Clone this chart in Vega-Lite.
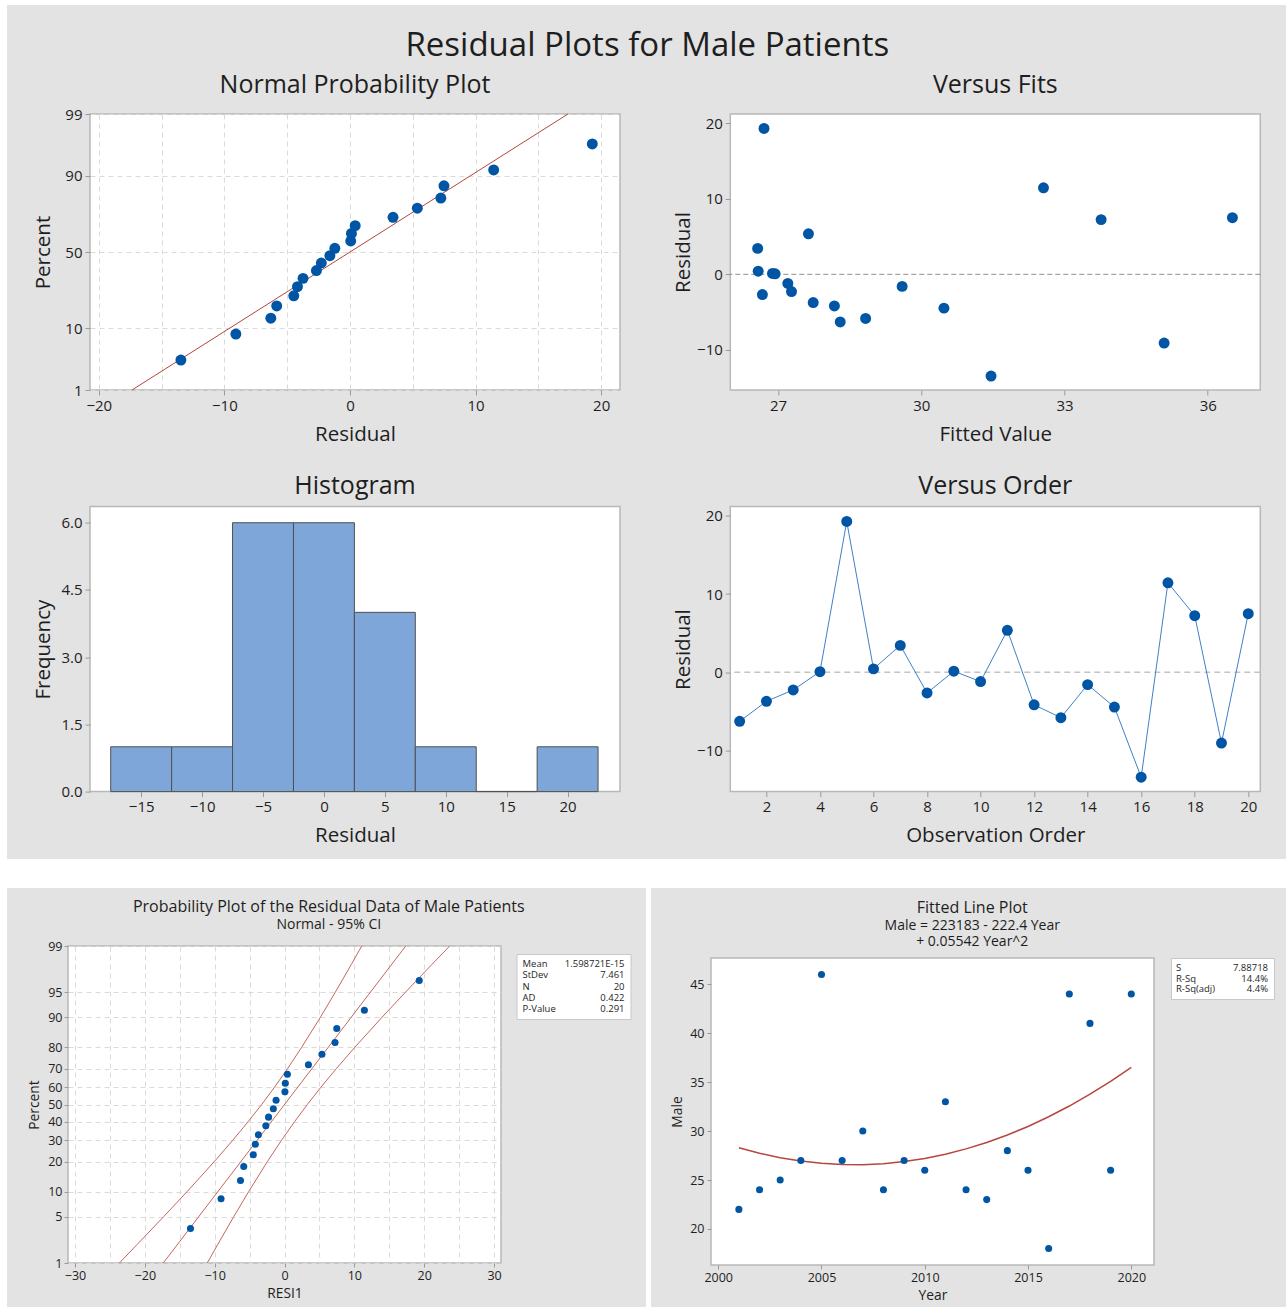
{
  "$schema": "https://vega.github.io/schema/vega-lite/v6.json",
  "background": "#e3e3e3",
  "padding": 0,
  "config": {
    "font": "Open Sans",
    "view": {"fill": "#ffffff", "stroke": "#b8b8b8", "strokeWidth": 1.5},
    "concat": {"spacing": 0},
    "axis": {"domain": false, "grid": false, "tickColor": "#9a9a9a", "tickWidth": 1, "labelColor": "#1e1e1e", "titleColor": "#1e1e1e", "titleFontWeight": "normal", "labelFlush": false, "labelOverlap": false, "labelFont": "Open Sans", "titleFont": "Open Sans", "gridColor": "#dadada", "gridDash": [5, 4], "gridWidth": 1},
    "axisX": {"tickSize": 5, "labelPadding": 3, "labelFontSize": 15, "titleFontSize": 20.5, "titlePadding": 11.1, "minExtent": 23, "maxExtent": 23},
    "axisY": {"tickSize": 5, "labelPadding": 3, "labelFontSize": 15, "titleFontSize": 20.5, "titlePadding": 6.4, "minExtent": 30, "maxExtent": 30},
    "title": {"color": "#1e1e1e", "subtitleColor": "#1e1e1e", "fontWeight": "normal", "font": "Open Sans", "subtitleFont": "Open Sans", "anchor": "middle"}
  },
  "datasets": {
    "obs": [
      {"order": 1, "year": 2001, "male": 22, "fit": 28.302, "resid": -6.302, "pct": 13.24, "nscore": -1.1154},
      {"order": 2, "year": 2002, "male": 24, "fit": 27.736, "resid": -3.736, "pct": 32.84, "nscore": -0.4443},
      {"order": 3, "year": 2003, "male": 25, "fit": 27.282, "resid": -2.282, "pct": 42.65, "nscore": -0.1854},
      {"order": 4, "year": 2004, "male": 27, "fit": 26.939, "resid": 0.061, "pct": 57.35, "nscore": 0.1854},
      {"order": 5, "year": 2005, "male": 46, "fit": 26.706, "resid": 19.294, "pct": 96.57, "nscore": 1.8209},
      {"order": 6, "year": 2006, "male": 27, "fit": 26.584, "resid": 0.416, "pct": 67.16, "nscore": 0.4443},
      {"order": 7, "year": 2007, "male": 30, "fit": 26.573, "resid": 3.427, "pct": 72.06, "nscore": 0.5846},
      {"order": 8, "year": 2008, "male": 24, "fit": 26.672, "resid": -2.672, "pct": 37.75, "nscore": -0.3122},
      {"order": 9, "year": 2009, "male": 27, "fit": 26.884, "resid": 0.116, "pct": 62.25, "nscore": 0.3122},
      {"order": 10, "year": 2010, "male": 26, "fit": 27.205, "resid": -1.205, "pct": 52.45, "nscore": 0.0615},
      {"order": 11, "year": 2011, "male": 33, "fit": 27.637, "resid": 5.363, "pct": 76.96, "nscore": 0.7376},
      {"order": 12, "year": 2012, "male": 24, "fit": 28.18, "resid": -4.18, "pct": 27.94, "nscore": -0.5846},
      {"order": 13, "year": 2013, "male": 23, "fit": 28.834, "resid": -5.834, "pct": 18.14, "nscore": -0.9101},
      {"order": 14, "year": 2014, "male": 28, "fit": 29.599, "resid": -1.599, "pct": 47.55, "nscore": -0.0615},
      {"order": 15, "year": 2015, "male": 26, "fit": 30.474, "resid": -4.474, "pct": 23.04, "nscore": -0.7376},
      {"order": 16, "year": 2016, "male": 18, "fit": 31.461, "resid": -13.461, "pct": 3.43, "nscore": -1.8209},
      {"order": 17, "year": 2017, "male": 44, "fit": 32.559, "resid": 11.441, "pct": 91.67, "nscore": 1.383},
      {"order": 18, "year": 2018, "male": 41, "fit": 33.766, "resid": 7.234, "pct": 81.86, "nscore": 0.9101},
      {"order": 19, "year": 2019, "male": 26, "fit": 35.086, "resid": -9.086, "pct": 8.33, "nscore": -1.383},
      {"order": 20, "year": 2020, "male": 44, "fit": 36.516, "resid": 7.484, "pct": 86.76, "nscore": 1.1154}
    ],
    "npfit": [
      {"resid": -17.357, "nscore": -2.3263},
      {"resid": 17.357, "nscore": 2.3263}
    ],
    "ci": [
      {"curve": "fit", "resid": -17.357, "nscore": -2.3263},
      {"curve": "fit", "resid": 17.357, "nscore": 2.3263},
      {"curve": "lower", "resid": -23.652, "nscore": -2.3263},
      {"curve": "lower", "resid": -21.089, "nscore": -2.0537},
      {"curve": "lower", "resid": -17.289, "nscore": -1.6449},
      {"curve": "lower", "resid": -13.975, "nscore": -1.2816},
      {"curve": "lower", "resid": -10.084, "nscore": -0.8416},
      {"curve": "lower", "resid": -7.401, "nscore": -0.5244},
      {"curve": "lower", "resid": -5.212, "nscore": -0.2533},
      {"curve": "lower", "resid": -3.27, "nscore": 0},
      {"curve": "lower", "resid": -1.432, "nscore": 0.2533},
      {"curve": "lower", "resid": 0.425, "nscore": 0.5244},
      {"curve": "lower", "resid": 2.474, "nscore": 0.8416},
      {"curve": "lower", "resid": 5.149, "nscore": 1.2816},
      {"curve": "lower", "resid": 7.257, "nscore": 1.6449},
      {"curve": "lower", "resid": 9.557, "nscore": 2.0537},
      {"curve": "lower", "resid": 11.062, "nscore": 2.3263},
      {"curve": "upper", "resid": -11.062, "nscore": -2.3263},
      {"curve": "upper", "resid": -9.557, "nscore": -2.0537},
      {"curve": "upper", "resid": -7.257, "nscore": -1.6449},
      {"curve": "upper", "resid": -5.149, "nscore": -1.2816},
      {"curve": "upper", "resid": -2.474, "nscore": -0.8416},
      {"curve": "upper", "resid": -0.425, "nscore": -0.5244},
      {"curve": "upper", "resid": 1.432, "nscore": -0.2533},
      {"curve": "upper", "resid": 3.27, "nscore": 0},
      {"curve": "upper", "resid": 5.212, "nscore": 0.2533},
      {"curve": "upper", "resid": 7.401, "nscore": 0.5244},
      {"curve": "upper", "resid": 10.084, "nscore": 0.8416},
      {"curve": "upper", "resid": 13.975, "nscore": 1.2816},
      {"curve": "upper", "resid": 17.289, "nscore": 1.6449},
      {"curve": "upper", "resid": 21.089, "nscore": 2.0537},
      {"curve": "upper", "resid": 23.652, "nscore": 2.3263}
    ],
    "hist": [
      {"lo": -17.5, "hi": -12.5, "n": 1},
      {"lo": -12.5, "hi": -7.5, "n": 1},
      {"lo": -7.5, "hi": -2.5, "n": 6},
      {"lo": -2.5, "hi": 2.5, "n": 6},
      {"lo": 2.5, "hi": 7.5, "n": 4},
      {"lo": 7.5, "hi": 12.5, "n": 1},
      {"lo": 12.5, "hi": 17.5, "n": 0},
      {"lo": 17.5, "hi": 22.5, "n": 1}
    ]
  },
  "spacing": 0,
  "hconcat": [
    {"width": 7, "height": 1307, "view": {"fill": "#ffffff", "stroke": null}, "data": {"values": []}, "mark": "rect", "encoding": {}},
    {
      "spacing": 0,
      "vconcat": [
        {"width": 1279, "height": 5, "view": {"fill": "#ffffff", "stroke": null}, "data": {"values": []}, "mark": "rect", "encoding": {}},
        {"width": 1, "height": 24.7, "view": {"fill": null, "stroke": null}, "data": {"values": []}, "mark": "rect", "encoding": {}},
        {
          "spacing": 0,
          "hconcat": [
            {"width": 24.1, "height": 1, "view": {"fill": null, "stroke": null}, "data": {"values": []}, "mark": "rect", "encoding": {}},
            {
              "title": {"text": "Residual Plots for Male Patients", "fontSize": 33, "offset": 8.5},
              "spacing": 26.6,
              "vconcat": [
                {
                  "spacing": 51.3,
                  "hconcat": [
                    {
                      "width": 530, "height": 276,
                      "title": {"text": "Normal Probability Plot", "fontSize": 25, "offset": 8.8, "frame": "group"},
                      "encoding": {
                        "x": {"field": "resid", "type": "quantitative", "title": "Residual",
                          "scale": {"domain": [-20.7, 21.5], "nice": false, "zero": false},
                          "axis": {"values": [-20, -15, -10, -5, 0, 5, 10, 15, 20], "grid": true,
                            "labelExpr": "datum.value % 10 === 0 ? datum.label : ''",
                            "tickOpacity": {"condition": {"test": "datum.value % 10 === 0", "value": 1}, "value": 0}}},
                        "y": {"field": "nscore", "type": "quantitative", "title": "Percent",
                          "scale": {"domain": [-2.3263, 2.3263], "nice": false, "zero": false},
                          "axis": {"values": [-2.3263, -1.2816, 0, 1.2816, 2.3263], "grid": true,
                            "labelExpr": "datum.value < -2 ? '1' : datum.value < -1 ? '10' : datum.value < 1 ? '50' : datum.value < 2 ? '90' : '99'"}}
                      },
                      "layer": [
                        {"data": {"name": "npfit"}, "mark": {"type": "line", "color": "#b5443c", "strokeWidth": 1}, "encoding": {}},
                        {"data": {"name": "obs"}, "mark": {"type": "circle", "size": 120, "color": "#0055a5", "opacity": 1}}
                      ]
                    },
                    {
                      "width": 530, "height": 276,
                      "title": {"text": "Versus Fits", "fontSize": 25, "offset": 16.3, "frame": "group"},
                      "layer": [
                        {"data": {"values": [{"resid": 0}]}, "mark": {"type": "rule", "color": "#8c8c8c", "strokeDash": [5, 3], "strokeWidth": 1},
                          "encoding": {"y": {"field": "resid", "type": "quantitative", "title": "Residual"}}},
                        {"data": {"name": "obs"}, "mark": {"type": "circle", "size": 120, "color": "#0055a5", "opacity": 1},
                          "encoding": {
                            "x": {"field": "fit", "type": "quantitative", "title": "Fitted Value",
                              "scale": {"domain": [26.0, 37.1], "nice": false, "zero": false},
                              "axis": {"values": [27, 30, 33, 36]}},
                            "y": {"field": "resid", "type": "quantitative", "title": "Residual",
                              "scale": {"domain": [-15.3, 21.2], "nice": false, "zero": false},
                              "axis": {"values": [-10, 0, 10, 20]}}
                          }}
                      ]
                    }
                  ]
                },
                {
                  "spacing": 51.3,
                  "hconcat": [
                    {
                      "width": 530, "height": 285,
                      "title": {"text": "Histogram", "fontSize": 25, "offset": 7.3, "frame": "group"},
                      "data": {"name": "hist"},
                      "mark": {"type": "rect", "fill": "#7ea6d9", "stroke": "#505050", "strokeWidth": 1, "fillOpacity": 1},
                      "encoding": {
                        "x": {"field": "lo", "type": "quantitative", "title": "Residual",
                          "scale": {"domain": [-19.2, 24.3], "nice": false, "zero": false},
                          "axis": {"values": [-15, -10, -5, 0, 5, 10, 15, 20]}},
                        "x2": {"field": "hi"},
                        "y": {"field": "n", "type": "quantitative", "title": "Frequency",
                          "scale": {"domain": [0, 6.36], "nice": false},
                          "axis": {"values": [0, 1.5, 3, 4.5, 6], "format": ".1f"}},
                        "y2": {"datum": 0}
                      }
                    },
                    {
                      "width": 530, "height": 285,
                      "title": {"text": "Versus Order", "fontSize": 25, "offset": 7.3, "frame": "group"},
                      "layer": [
                        {"data": {"values": [{"resid": 0}]}, "mark": {"type": "rule", "color": "#c4c4c4", "strokeDash": [6, 4], "strokeWidth": 1.5},
                          "encoding": {"y": {"field": "resid", "type": "quantitative", "title": "Residual"}}},
                        {"data": {"name": "obs"}, "mark": {"type": "line", "color": "#3f80c6", "strokeWidth": 1},
                          "encoding": {
                            "x": {"field": "order", "type": "quantitative", "title": "Observation Order",
                              "scale": {"domain": [0.65, 20.45], "nice": false, "zero": false},
                              "axis": {"values": [2, 4, 6, 8, 10, 12, 14, 16, 18, 20]}},
                            "y": {"field": "resid", "type": "quantitative", "title": "Residual",
                              "scale": {"domain": [-15.3, 21.2], "nice": false, "zero": false},
                              "axis": {"values": [-10, 0, 10, 20]}}
                          }},
                        {"data": {"name": "obs"}, "mark": {"type": "circle", "size": 120, "color": "#0055a5", "opacity": 1},
                          "encoding": {
                            "x": {"field": "order", "type": "quantitative", "title": "Observation Order"},
                            "y": {"field": "resid", "type": "quantitative", "title": "Residual"}
                          }}
                      ]
                    }
                  ]
                }
              ]
            }
          ]
        },
        {"width": 1, "height": 11.4, "view": {"fill": null, "stroke": null}, "data": {"values": []}, "mark": "rect", "encoding": {}},
        {"width": 1279, "height": 29, "view": {"fill": "#ffffff", "stroke": null}, "data": {"values": []}, "mark": "rect", "encoding": {}},
        {
          "spacing": 0,
          "hconcat": [
            {"width": 18.5, "height": 1, "view": {"fill": null, "stroke": null}, "data": {"values": []}, "mark": "rect", "encoding": {}},
            {
              "spacing": 0,
              "vconcat": [
                {"width": 1, "height": 10.9, "view": {"fill": null, "stroke": null}, "data": {"values": []}, "mark": "rect", "encoding": {}},
                {
                  "title": {"text": "Probability Plot of the Residual Data of Male Patients", "subtitle": "Normal - 95% CI", "fontSize": 16, "subtitleFontSize": 14, "subtitlePadding": 3, "offset": 7},
                  "spacing": 13.5,
                  "hconcat": [
                    {
                      "width": 433, "height": 317,
                      "encoding": {
                        "x": {"field": "resid", "type": "quantitative", "title": "RESI1",
                          "scale": {"domain": [-31, 31], "nice": false, "zero": false},
                          "axis": {"values": [-30, -25, -20, -15, -10, -5, 0, 5, 10, 15, 20, 25, 30], "grid": true,
                            "labelExpr": "datum.value % 10 === 0 ? datum.label : ''",
                            "tickOpacity": {"condition": {"test": "datum.value % 10 === 0", "value": 1}, "value": 0},
                            "tickSize": 4, "labelPadding": 2, "labelFontSize": 12.5, "titleFontSize": 13.8, "titlePadding": 4.5, "minExtent": 18.5, "maxExtent": 18.5}},
                        "y": {"field": "nscore", "type": "quantitative", "title": "Percent",
                          "scale": {"domain": [-2.3263, 2.3263], "nice": false, "zero": false},
                          "axis": {"values": [-2.3263, -1.6449, -1.2816, -0.8416, -0.5244, -0.2533, 0, 0.2533, 0.5244, 0.8416, 1.2816, 1.6449, 2.3263], "grid": true,
                            "labelExpr": "datum.value < -2 ? '1' : datum.value < -1.5 ? '5' : datum.value < -1.1 ? '10' : datum.value < -0.7 ? '20' : datum.value < -0.4 ? '30' : datum.value < -0.1 ? '40' : datum.value < 0.1 ? '50' : datum.value < 0.4 ? '60' : datum.value < 0.7 ? '70' : datum.value < 1.1 ? '80' : datum.value < 1.5 ? '90' : datum.value < 2 ? '95' : '99'",
                            "tickSize": 4, "labelPadding": 2, "labelFontSize": 12.5, "titleFontSize": 13.8, "titlePadding": 6.7, "minExtent": 20, "maxExtent": 20}}
                      },
                      "layer": [
                        {"data": {"name": "ci"}, "mark": {"type": "line", "color": "#c4675f", "strokeWidth": 1},
                          "encoding": {"detail": {"field": "curve"}, "order": {"field": "nscore", "type": "quantitative"}}},
                        {"data": {"name": "obs"}, "mark": {"type": "circle", "size": 50, "color": "#0055a5", "opacity": 1}}
                      ]
                    },
                    {
                      "spacing": 0,
                      "vconcat": [
                        {"width": 1, "height": 6.25, "view": {"fill": null, "stroke": null}, "data": {"values": []}, "mark": "rect", "encoding": {}},
                        {
                          "width": 114, "height": 65,
                          "view": {"fill": "#ffffff", "stroke": "#c8c8c8", "strokeWidth": 1},
                          "data": {"values": [
                            {"k": "Mean", "v": "1.598721E-15"},
                            {"k": "StDev", "v": "7.461"},
                            {"k": "N", "v": "20"},
                            {"k": "AD", "v": "0.422"},
                            {"k": "P-Value", "v": "0.291"}
                          ]},
                          "encoding": {
                            "y": {"field": "k", "type": "ordinal", "sort": ["Mean", "StDev", "N", "AD", "P-Value"], "scale": {"padding": 0.89}, "axis": null}
                          },
                          "layer": [
                            {"mark": {"type": "text", "align": "left", "baseline": "middle", "fontSize": 9.5, "dx": 6, "color": "#1e1e1e"},
                              "encoding": {"x": {"datum": 0, "type": "quantitative", "scale": {"domain": [0, 1]}, "axis": null}, "text": {"field": "k"}}},
                            {"mark": {"type": "text", "align": "right", "baseline": "middle", "fontSize": 9.5, "dx": -6, "color": "#1e1e1e"},
                              "encoding": {"x": {"datum": 1, "type": "quantitative"}, "text": {"field": "v"}}}
                          ]
                        }
                      ]
                    }
                  ]
                }
              ]
            },
            {"width": 14.3, "height": 1, "view": {"fill": null, "stroke": null}, "data": {"values": []}, "mark": "rect", "encoding": {}},
            {"width": 5, "height": 419, "view": {"fill": "#ffffff", "stroke": null}, "data": {"values": []}, "mark": "rect", "encoding": {}},
            {"width": 19, "height": 1, "view": {"fill": null, "stroke": null}, "data": {"values": []}, "mark": "rect", "encoding": {}},
            {
              "spacing": 0,
              "vconcat": [
                {"width": 1, "height": 10.9, "view": {"fill": null, "stroke": null}, "data": {"values": []}, "mark": "rect", "encoding": {}},
                {
                  "title": {"text": "Fitted Line Plot", "subtitle": ["Male = 223183 - 222.4 Year", "+ 0.05542 Year^2"], "fontSize": 16, "subtitleFontSize": 14, "subtitleLineHeight": 16.5, "subtitlePadding": 3, "offset": 8},
                  "spacing": 15,
                  "hconcat": [
                    {
                      "width": 443, "height": 307,
                      "data": {"name": "obs"},
                      "layer": [
                        {"mark": {"type": "line", "color": "#b8453f", "strokeWidth": 1.5},
                          "encoding": {
                            "x": {"field": "year", "type": "quantitative", "title": "Year",
                              "scale": {"domain": [1999.65, 2021.1], "nice": false, "zero": false},
                              "axis": {"values": [2000, 2005, 2010, 2015, 2020], "format": "d",
                                "tickSize": 4, "labelPadding": 2, "labelFontSize": 12.5, "titleFontSize": 13.8, "titlePadding": 4.5, "minExtent": 18.5, "maxExtent": 18.5}},
                            "y": {"field": "fit", "type": "quantitative", "title": "Male",
                              "scale": {"domain": [16.32, 47.68], "nice": false, "zero": false},
                              "axis": {"values": [20, 25, 30, 35, 40, 45],
                                "tickSize": 4, "labelPadding": 3, "labelFontSize": 12.5, "titleFontSize": 13.8, "titlePadding": 6.2, "minExtent": 20, "maxExtent": 20}}
                          }},
                        {"mark": {"type": "circle", "size": 50, "color": "#0055a5", "opacity": 1},
                          "encoding": {
                            "x": {"field": "year", "type": "quantitative", "title": "Year"},
                            "y": {"field": "male", "type": "quantitative", "title": "Male"}
                          }}
                      ]
                    },
                    {
                      "width": 103, "height": 41,
                      "view": {"fill": "#ffffff", "stroke": "#c8c8c8", "strokeWidth": 1},
                      "data": {"values": [
                        {"k": "S", "v": "7.88718"},
                        {"k": "R-Sq", "v": "14.4%"},
                        {"k": "R-Sq(adj)", "v": "4.4%"}
                      ]},
                      "encoding": {
                        "y": {"field": "k", "type": "ordinal", "sort": ["S", "R-Sq", "R-Sq(adj)"], "scale": {"padding": 0.9}, "axis": null}
                      },
                      "layer": [
                        {"mark": {"type": "text", "align": "left", "baseline": "middle", "fontSize": 9.5, "dx": 5, "color": "#1e1e1e"},
                          "encoding": {"x": {"datum": 0, "type": "quantitative", "scale": {"domain": [0, 1]}, "axis": null}, "text": {"field": "k"}}},
                        {"mark": {"type": "text", "align": "right", "baseline": "middle", "fontSize": 9.5, "dx": -6, "color": "#1e1e1e"},
                          "encoding": {"x": {"datum": 1, "type": "quantitative"}, "text": {"field": "v"}}}
                      ]
                    }
                  ]
                }
              ]
            }
          ]
        }
      ]
    }
  ]
}
